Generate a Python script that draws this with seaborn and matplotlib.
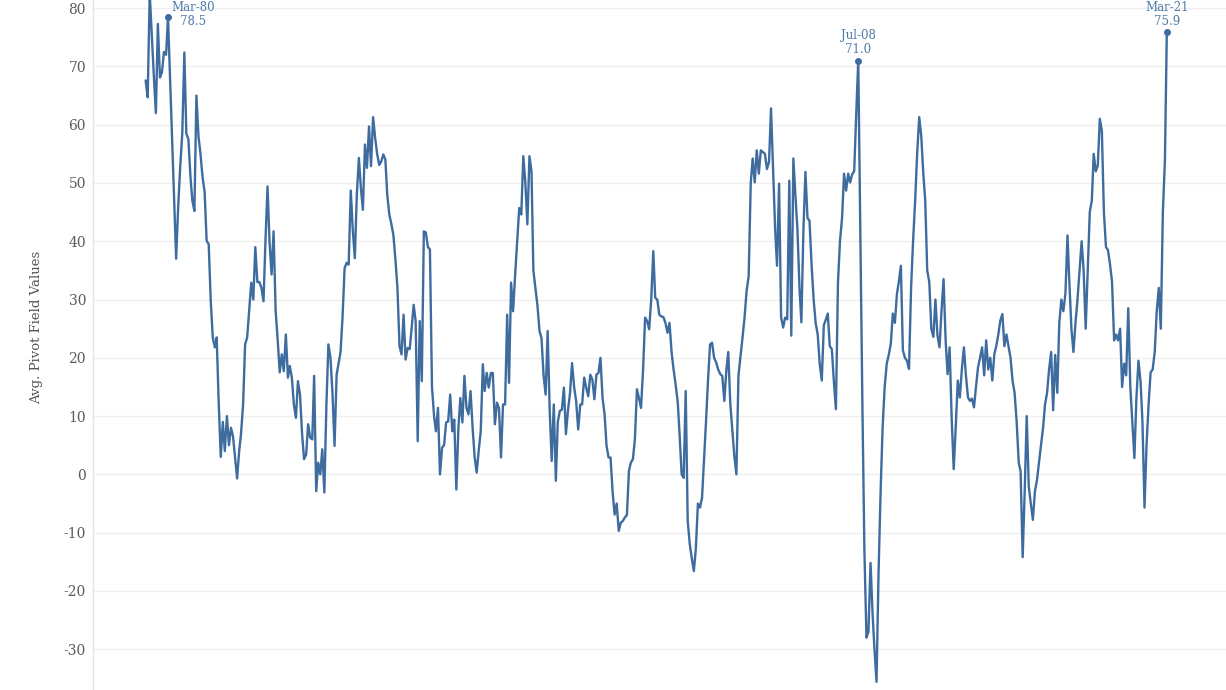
import numpy as np
import pandas as pd
import matplotlib
matplotlib.use("Agg")
import matplotlib.pyplot as plt
import seaborn as sns

# ---------------- data (monthly, starting Apr-1979) ----------------
START_MONTH = "1979-04-01"

vals_1979_1983 = [67.6, 64.7, 82.5, 75.5, 68.5, 62.0, 77.3, 68.1, 69.0, 72.5, 72.0, 78.5,
                  68, 58, 47.5, 37.0, 46, 53, 58.5, 72.4, 58.5, 57.5, 51, 47, 45.2, 65.0,
                  58, 55, 51, 48.5, 40.1, 39.5, 30, 23.5, 21.8, 23.5, 12, 3.0, 9, 4, 10,
                  5, 8, 6.5, 3, -0.7, 4]
vals_1983_1987 = [7, 12, 22.3, 23.5, 28, 32.9, 30, 39, 33, 33, 32, 29.7, 40, 49.4, 40,
                  34.3, 41.7, 28, 23, 17.5, 20.6, 17.7, 24, 16.6, 18.6, 16.6, 12, 9.7,
                  16, 13.7, 7, 2.6, 3.4, 8.6, 6.3, 6, 16.9, -2.9, 2, 0, 4.3, -3.1, 12,
                  22.3, 20]
vals_1986_1990 = [14, 4.9, 17.1, 19, 21, 27, 35.4, 36.3, 36, 48.7, 42, 37.1, 48, 54.3,
                  49, 45.4, 56.6, 52.6, 59.7, 52.9, 61.3, 57.7, 55, 53.1, 53.7, 54.9,
                  54, 48, 44.6, 43, 41.1, 37, 32, 22, 20.6, 27.4, 19.7, 21.7, 21.5, 25,
                  29.1, 26.3, 5.7, 26.3, 16, 41.7]
vals_1990_1994 = [41.5, 39, 38.6, 15, 10, 7.4, 11.4, 0, 4.6, 5, 8.9, 9.1, 13.7, 7.4,
                  9.4, -2.6, 8, 13.1, 8.9, 16.9, 11.4, 10.3, 14.3, 8, 3, 0.3, 4, 7.4,
                  18.9, 14.3, 17.4, 14.9, 17.4, 17.4, 8.6, 12.3, 11.4, 2.9, 12, 12,
                  27.4, 15.7, 32.9, 28, 34.3, 40, 45.7]
vals_1994_1998 = [44.6, 54.6, 50, 42.9, 54.6, 52, 35, 32, 29, 24.6, 23.4, 17, 13.7,
                  24.6, 10.9, 2.3, 12, -1.1, 9, 10.9, 11.1, 14.9, 6.9, 11, 14, 19.1,
                  15, 12.6, 7.7, 12, 12, 16.6, 14.9, 13.4, 17.1, 16.3, 12.9, 17.1,
                  17.4, 20, 13.1, 10.3, 5, 2.9, 2.9, -3, -6.9]
vals_1998_2001 = [-5, -9.7, -8.3, -8, -7.4, -7, 0.6, 2, 2.6, 6, 14.6, 13.1, 11.4, 18,
                  26.9, 26.3, 24.9, 30, 38.3, 30.3, 30, 27.4, 27.1, 27, 26, 24.3, 26,
                  21, 18, 15.4, 12.5, 6.9, 0, -0.6, 14.3, -8, -12, -14.5, -16.6, -12.6,
                  -5, -5.7, -4, 2, 9, 16, 22.3]
vals_2001_2005 = [22.6, 20, 19.2, 18, 17.2, 16.9, 12.6, 18, 21, 12, 7.5, 3, 0, 17,
                  20.3, 23.5, 27, 31.5, 34, 50, 54.2, 50.1, 55.6, 51.6, 55.6, 55.3, 55,
                  52.4, 53.6, 62.8, 52.4, 42, 35.8, 49.9, 27, 25.2, 26.9, 26.6, 50.4,
                  23.8, 54.2, 48, 42, 32, 26.1, 42, 51.9]
vals_2005_2013 = [44, 43.5, 36, 30, 26, 24, 19, 16.1, 25.6, 26.5, 27.6, 22, 21.5, 16,
                  11.2, 33, 40, 44, 51.6, 48.7, 51.6, 50.1, 51.5, 52, 62, 71.0, 41, 12,
                  -13, -28, -27, -15.2, -24, -30, -35.6, -17, -3, 8, 15, 19, 20.5, 22.4,
                  27.6, 26, 31, 33, 35.8, 21.3, 20, 19.5, 18.1, 32, 40, 47, 55, 61.3,
                  58, 52, 47, 35, 33, 25, 23.6, 30, 23.9, 21.8, 28, 33.5, 23, 17.2,
                  21.8, 9.8, 0.9, 8, 16.1, 13.2, 18, 21.8, 17, 13.2, 12.6, 13, 11.5, 15,
                  18.4, 20, 21.8, 17, 23, 18, 20, 16.1, 20.7, 22, 24, 26.4]
vals_2013_2021 = [27.5, 22, 24, 22, 20, 16, 14, 9, 2, 0.5, -14.2, -3, 10, -2, -5, -7.8,
                  -3, -1, 2, 5, 8, 12, 14, 18, 21, 11, 20.5, 14, 26, 30, 28, 31, 41, 33,
                  25, 21, 26, 30, 35, 40, 35, 25, 35, 45, 47, 55, 52, 53, 61, 59, 45,
                  39, 38.5, 36, 33, 23, 24, 23, 25, 15, 19, 17, 28.5, 15, 9, 2.8, 13,
                  19.5, 16, 9, -5.7, 5, 12, 17.5, 18, 21, 28, 32, 25, 45, 54, 75.9]

annot_months = ["1980-03-01", "2008-07-01", "2021-03-01"]
annot_names = ["Mar-80", "Jul-08", "Mar-21"]
y_ticks = [-30, -20, -10, 0, 10, 20, 30, 40, 50, 60, 70, 80]
y_label = "Avg. Pivot Field Values"

values = (vals_1979_1983 + vals_1983_1987 + vals_1986_1990 + vals_1990_1994 +
          vals_1994_1998 + vals_1998_2001 + vals_2001_2005 + vals_2005_2013 +
          vals_2013_2021)
dates = pd.date_range(START_MONTH, periods=len(values), freq="MS")
df = pd.DataFrame({"Month": dates, "Value": values})

# ---------------- styling ----------------
LINE = "#3e6c9f"
TEXT_BLUE = "#4f7aa8"

sns.set_theme(style="white")
plt.rcParams["font.family"] = ["DejaVu Serif"]

W, H = 1226, 690
fig = plt.figure(figsize=(W / 100, H / 100), dpi=100)
ax_left = 93 / W
ax = fig.add_axes([ax_left, 0.0, 1 - ax_left, 1.0])

sns.lineplot(data=df, x="Month", y="Value", ax=ax, color=LINE, linewidth=1.7)

px_per_day = 998.8 / (pd.Timestamp("2021-03-01") - pd.Timestamp("1980-03-01")).days
ref = pd.Timestamp("1980-03-01")
x_left = ref - pd.Timedelta(days=(168 - 93) / px_per_day)
x_right = ref + pd.Timedelta(days=(W - 168) / px_per_day)
ax.set_xlim(x_left, x_right)
ax.set_ylim(-37.0, 81.4)

ax.set_yticks(y_ticks)
ax.set_yticklabels([str(t) for t in y_ticks])
ax.set_xticks([])
ax.set_xlabel("")
ax.grid(axis="y", color="#efefef", linewidth=1.0)
ax.grid(axis="x", visible=False)
for s in ["top", "right", "bottom"]:
    ax.spines[s].set_visible(False)
ax.spines["left"].set_color("#e3e3e3")
ax.spines["left"].set_linewidth(1.0)
ax.tick_params(axis="y", length=0, pad=5, labelsize=10, labelcolor="#5a5a5a")

ax.set_ylabel(y_label, fontsize=9.5, color="#555555")
ax.yaxis.set_label_coords(-0.044, 0.526)

# annotations
offsets = [(25, -11), (0, 5), (0, 4)]
for m, name, off in zip(annot_months, annot_names, offsets):
    row = df[df["Month"] == pd.Timestamp(m)].iloc[0]
    ax.plot([row["Month"]], [row["Value"]], marker="o", markersize=4,
            color=LINE, linestyle="none")
    ax.annotate(f"{name}\n{row['Value']:.1f}", xy=(row["Month"], row["Value"]),
                xytext=off, textcoords="offset pixels", ha="center", va="bottom",
                fontsize=8.5, color=TEXT_BLUE, linespacing=1.1, annotation_clip=False)

fig.savefig("out.png", dpi=100, facecolor="white")
